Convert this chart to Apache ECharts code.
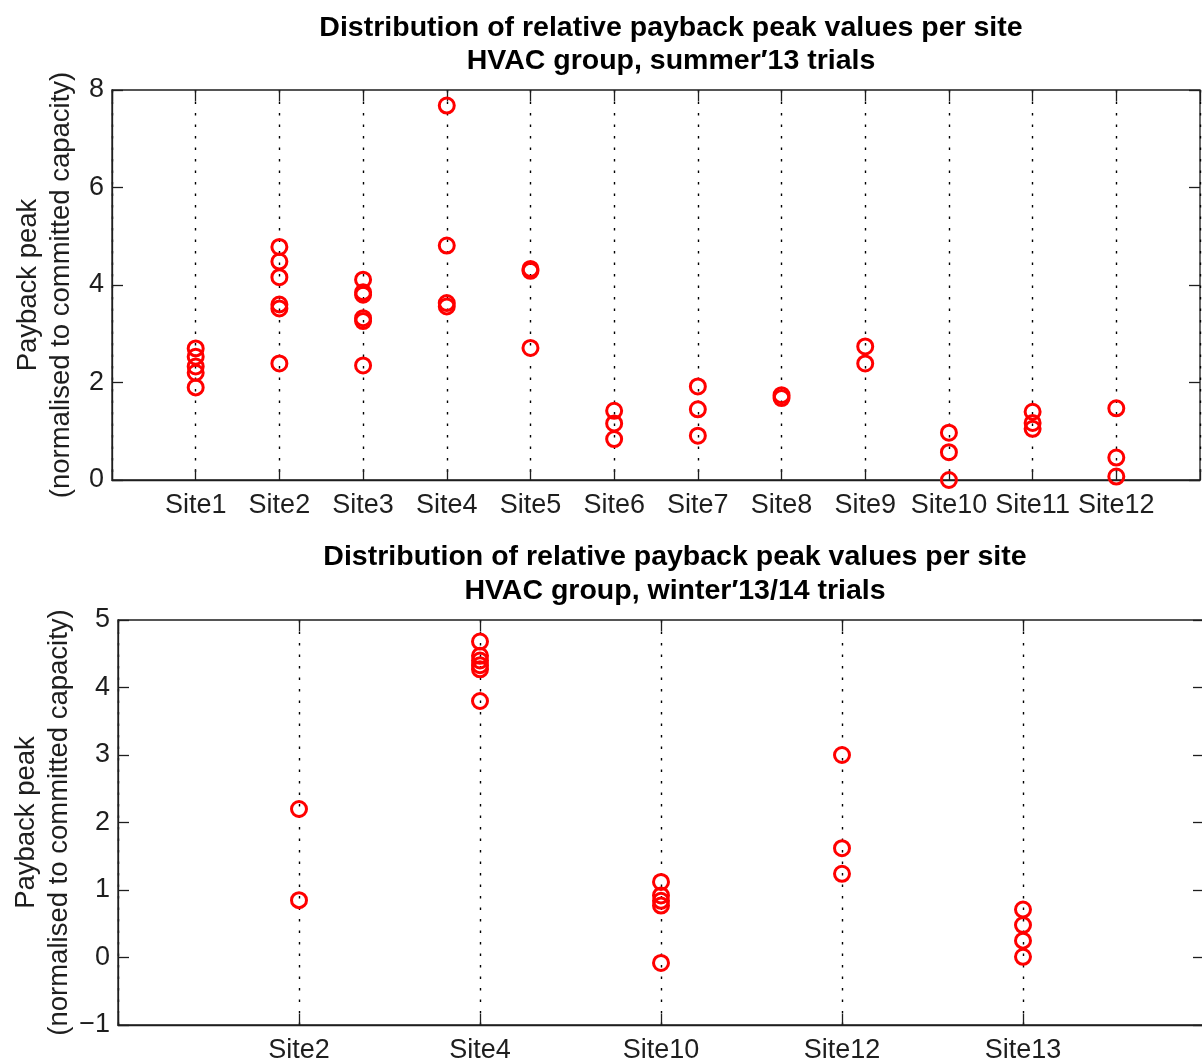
<!DOCTYPE html>
<html>
<head>
<meta charset="utf-8">
<title>Relative payback peak values per site</title>
<script src="https://cdn.jsdelivr.net/npm/echarts@6/dist/echarts.min.js"></script>
<style>
  html, body { margin: 0; padding: 0; background: #fff; }
  #chart { width: 1202px; height: 1061px; }
</style>
</head>
<body>
<div id="chart"></div>
<script>
// Summer '13 trials: relative payback peak per site (one list of peaks per site)
const summerSites = ['Site1', 'Site2', 'Site3', 'Site4', 'Site5', 'Site6',
                     'Site7', 'Site8', 'Site9', 'Site10', 'Site11', 'Site12'];
const summerPeaks = [
  [2.70, 2.53, 2.33, 2.20, 1.90],
  [4.78, 4.48, 4.16, 3.60, 3.52, 2.39],
  [4.11, 3.85, 3.80, 3.32, 3.26, 2.35],
  [7.68, 4.81, 3.63, 3.56],
  [4.33, 4.29, 2.71],
  [1.42, 1.16, 0.84],
  [1.92, 1.45, 0.91],
  [1.74, 1.68],
  [2.74, 2.39],
  [0.97, 0.57, 0.00],
  [1.40, 1.17, 1.05],
  [1.47, 0.46, 0.07]
];
const summerTicks = [0, 2, 4, 6, 8];

// Winter '13/14 trials
const winterSites = ['Site2', 'Site4', 'Site10', 'Site12', 'Site13'];
const winterPeaks = [
  [2.20, 0.85],
  [4.68, 4.47, 4.40, 4.33, 4.27, 3.80],
  [1.12, 0.92, 0.84, 0.77, -0.08],
  [3.00, 1.62, 1.24],
  [0.71, 0.48, 0.25, 0.01]
];
const winterTicks = [-1, 0, 1, 2, 3, 4, 5];

const yName = 'Payback peak\n(normalised to committed capacity)';
const summerTitle = 'Distribution of relative payback peak values per site\nHVAC group, summer\u203213 trials';
const winterTitle = 'Distribution of relative payback peak values per site\nHVAC group, winter\u203213/14 trials';

const FONT = '"Liberation Sans", Arial, Helvetica, sans-serif';
const INK = '#1e1e1e';
const TICK = { show: true, inside: true, length: 11, lineStyle: { color: INK, width: 1.3 } };

// one [position, value] pair per measured peak
function toPoints(peaks) {
  const pts = [];
  peaks.forEach((list, i) => list.forEach(v => pts.push([i + 1, v])));
  return pts;
}

function siteAxis(sites, gridIndex, labelMargin) {
  return {
    type: 'value', gridIndex, position: 'bottom',
    min: 0, max: sites.length + 1, interval: 1,
    axisLine: { show: true, onZero: false, lineStyle: { color: INK, width: 1.3 } },
    axisTick: TICK,
    axisLabel: {
      fontFamily: FONT, fontSize: 27, color: INK, margin: labelMargin,
      formatter: v => sites[v - 1] || ''
    },
    splitLine: {
      show: true,
      lineStyle: { color: '#000', width: 1.4, type: [2.5, 9] }
    }
  };
}

function mirrorX(sites, gridIndex) {
  return {
    type: 'value', gridIndex, position: 'top',
    min: 0, max: sites.length + 1, interval: 1,
    axisLine: { show: false, onZero: false },
    axisTick: TICK,
    axisLabel: { show: false },
    splitLine: { show: false }
  };
}

const fmtNum = v => (v < 0 ? '\u2212' + (-v) : String(v));

function valueAxis(ticks, gridIndex, nameGap) {
  return {
    type: 'value', gridIndex, position: 'left',
    min: ticks[0], max: ticks[ticks.length - 1], interval: ticks[1] - ticks[0],
    name: yName, nameLocation: 'middle', nameRotate: 90, nameGap,
    nameMoveOverlap: false,
    nameTextStyle: { fontFamily: FONT, fontSize: 27.5, color: INK, lineHeight: 33 },
    axisLine: { show: true, onZero: false, lineStyle: { color: INK, width: 1.3 } },
    axisTick: TICK,
    axisLabel: { fontFamily: FONT, fontSize: 27, color: INK, margin: 8, formatter: fmtNum },
    splitLine: { show: false }
  };
}

function mirrorY(ticks, gridIndex) {
  return {
    type: 'value', gridIndex, position: 'right',
    min: ticks[0], max: ticks[ticks.length - 1], interval: ticks[1] - ticks[0],
    axisLine: { show: false, onZero: false },
    axisTick: TICK,
    axisLabel: { show: false },
    splitLine: { show: false }
  };
}

function peakSeries(peaks, xIndex, yIndex) {
  return {
    type: 'scatter',
    xAxisIndex: xIndex, yAxisIndex: yIndex,
    data: toPoints(peaks),
    symbol: 'circle', symbolSize: 15,
    clip: false,
    itemStyle: { color: 'rgba(0,0,0,0)', borderColor: '#ff0000', borderWidth: 3, opacity: 1 },
    emphasis: { disabled: true },
    z: 5
  };
}

const chart = echarts.init(document.getElementById('chart'), null, { renderer: 'canvas' });

chart.setOption({
  animation: false,
  backgroundColor: '#ffffff',
  title: [
    {
      text: summerTitle, left: 671, top: 12, textAlign: 'center', padding: 0,
      textStyle: { fontFamily: FONT, fontSize: 28.5, fontWeight: 'bold', color: '#000', lineHeight: 33 }
    },
    {
      text: winterTitle, left: 675, top: 540, textAlign: 'center', padding: 0,
      textStyle: { fontFamily: FONT, fontSize: 28.5, fontWeight: 'bold', color: '#000', lineHeight: 34 }
    }
  ],
  grid: [
    { left: 112, top: 90, width: 1088, height: 390, show: true, outerBoundsMode: 'none',
      borderColor: INK, borderWidth: 1.3, backgroundColor: 'rgba(0,0,0,0)' },
    { left: 118, top: 620, width: 1086, height: 405, show: true, outerBoundsMode: 'none',
      borderColor: INK, borderWidth: 1.3, backgroundColor: 'rgba(0,0,0,0)' }
  ],
  xAxis: [
    siteAxis(summerSites, 0, 12),
    siteAxis(winterSites, 1, 12),
    mirrorX(summerSites, 0),
    mirrorX(winterSites, 1)
  ],
  yAxis: [
    valueAxis(summerTicks, 0, 34),
    valueAxis(winterTicks, 1, 42),
    mirrorY(summerTicks, 0),
    mirrorY(winterTicks, 1)
  ],
  series: [
    peakSeries(summerPeaks, 0, 0),
    peakSeries(winterPeaks, 1, 1)
  ]
});
</script>
</body>
</html>
